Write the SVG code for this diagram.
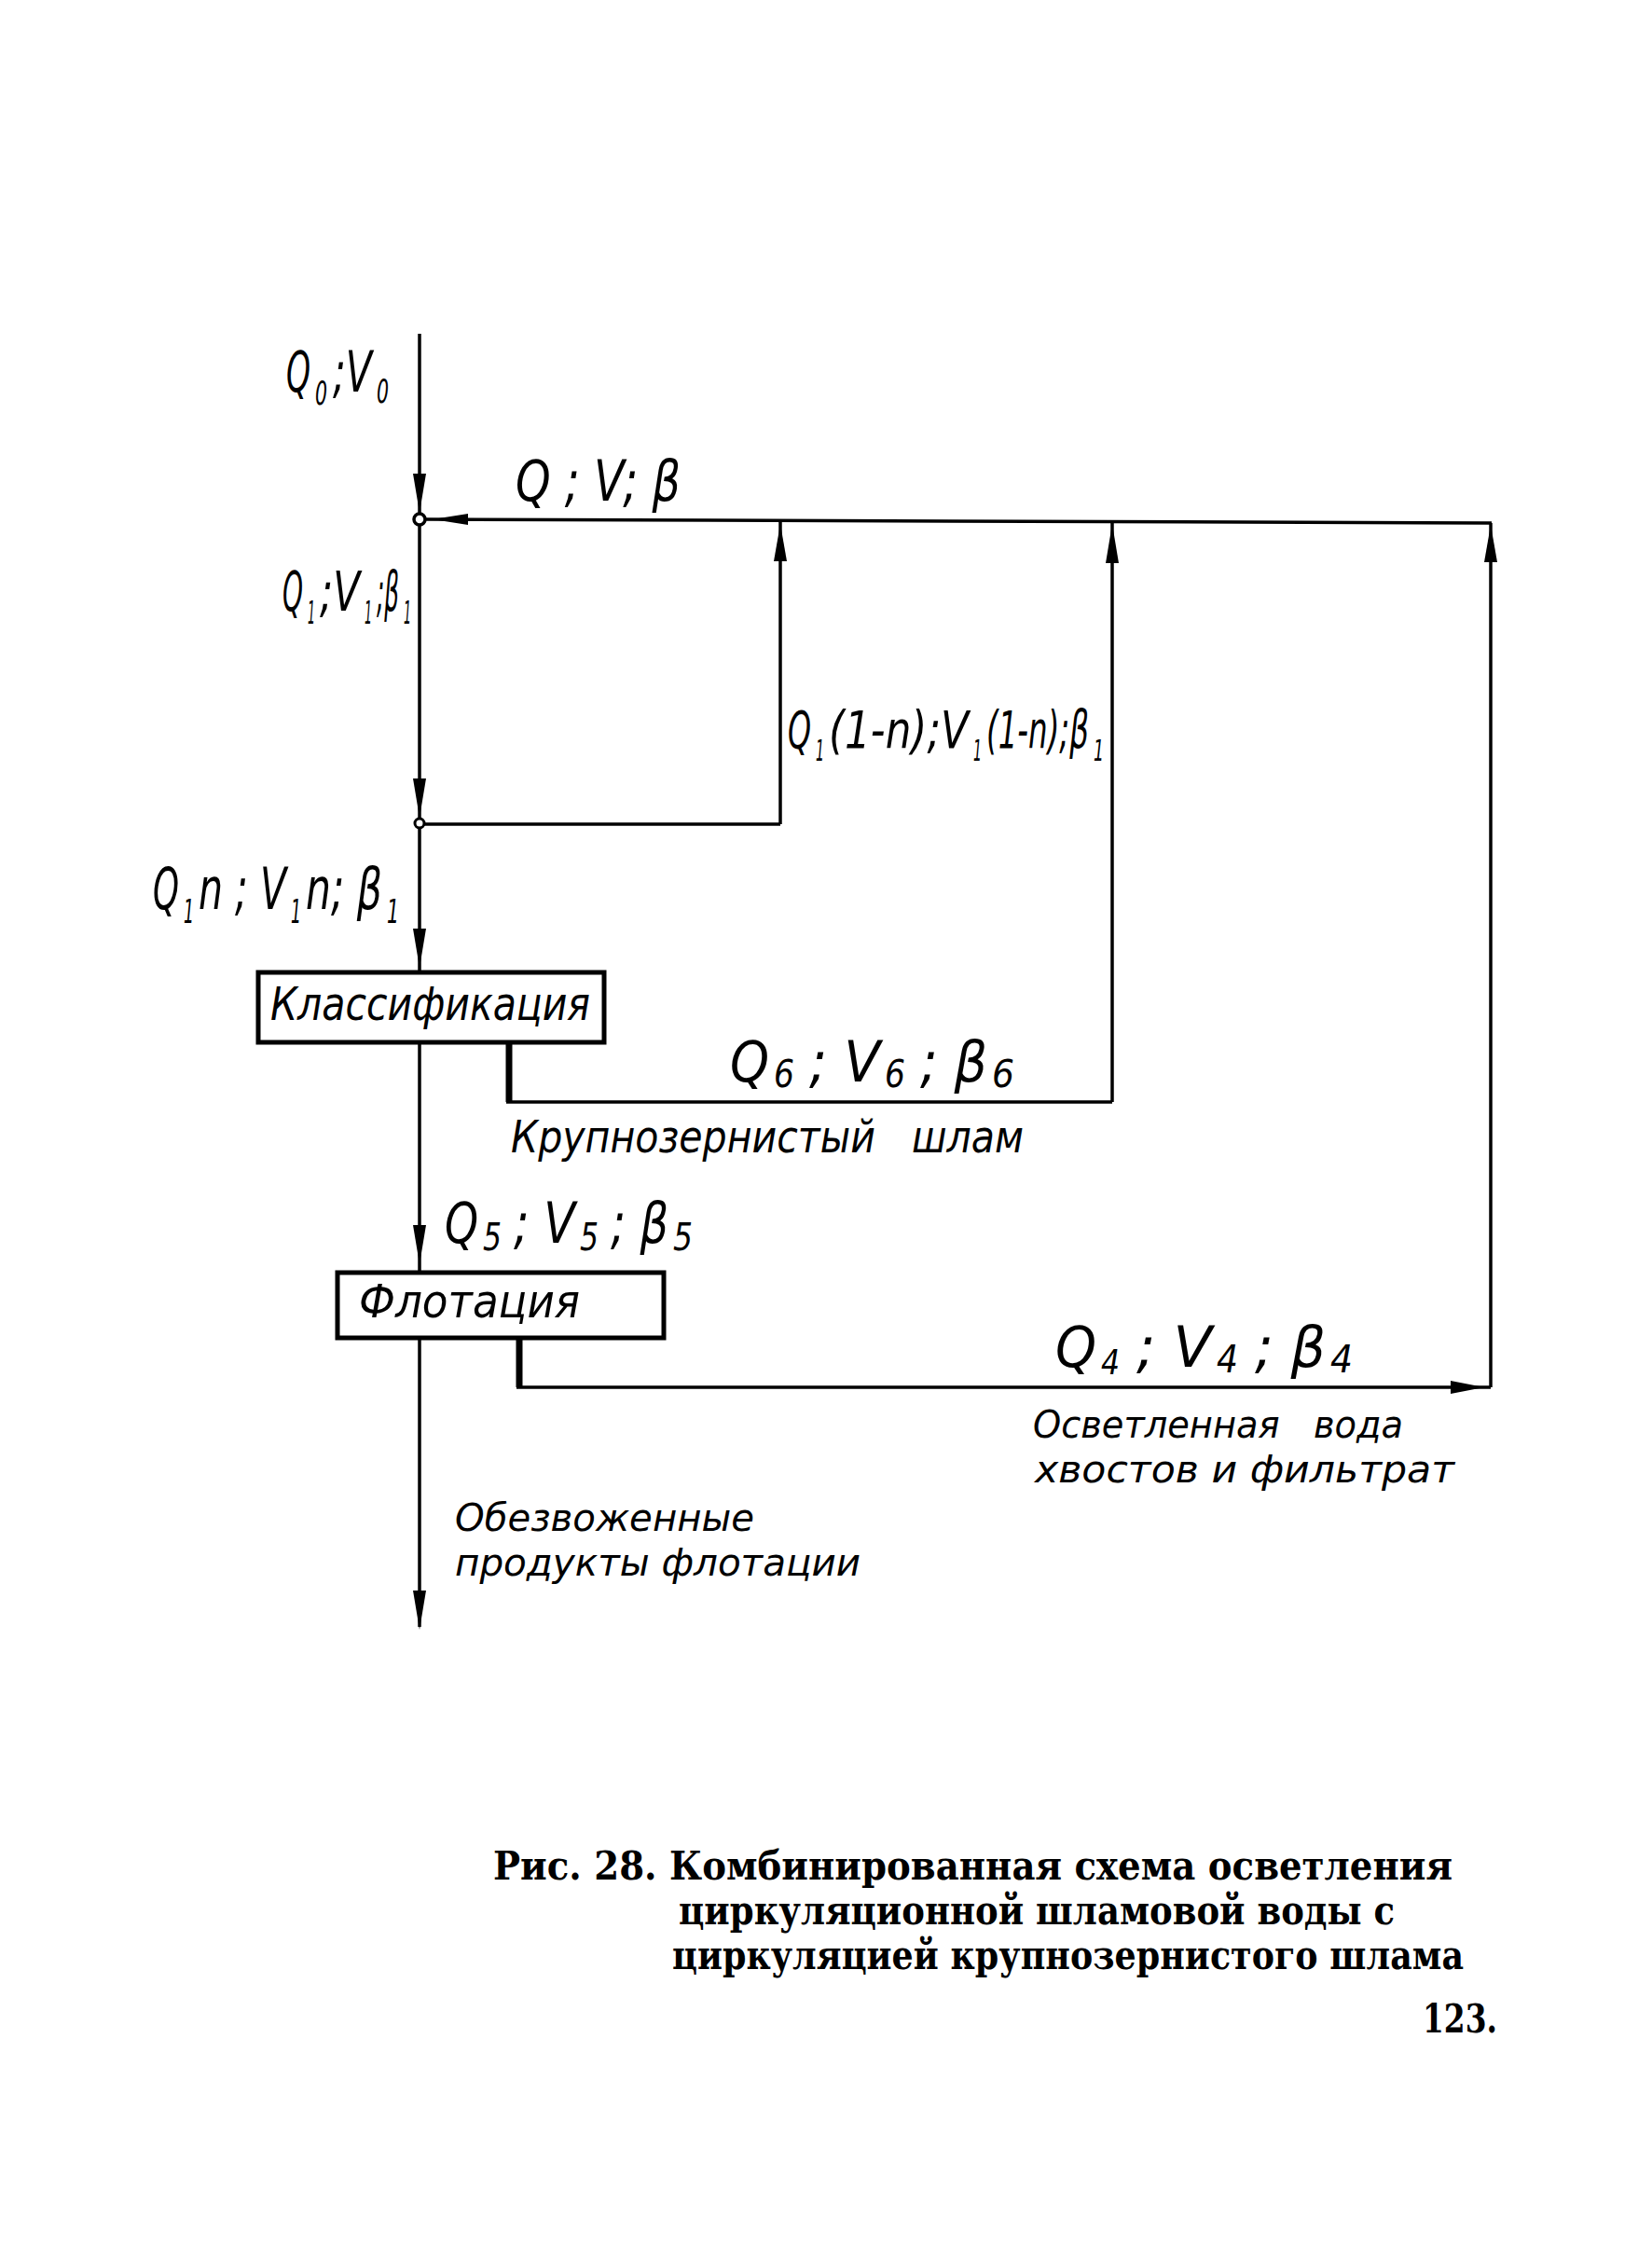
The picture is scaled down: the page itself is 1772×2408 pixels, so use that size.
<svg xmlns="http://www.w3.org/2000/svg" width="1772" height="2408" viewBox="0 0 1772 2408">
<style>
.ln{stroke:#000;stroke-width:3.5;fill:none}
.thk{stroke:#000;stroke-width:7;fill:none}
.box{stroke:#000;stroke-width:5;fill:#fff}
.hw{font-family:"Liberation Sans Narrow","DejaVu Sans Condensed","DejaVu Sans",sans-serif;font-style:italic;fill:#000}
.cap{font-family:"DejaVu Serif","Liberation Serif",serif;fill:#000;font-weight:bold}
.ah{fill:#000}
</style>
<defs>
<polygon id="ahd" points="0,0 -7,-42 7,-42" class="ah"/>
</defs>
<rect width="1772" height="2408" fill="#fff"/>
<g id="connectors">
<line class="ln" x1="450" y1="358" x2="450" y2="551"/>
<line class="ln" x1="450" y1="563" x2="450" y2="878"/>
<line class="ln" x1="450" y1="888" x2="450" y2="1043"/>
<line class="ln" x1="450" y1="1118" x2="450" y2="1365"/>
<line class="ln" x1="450" y1="1436" x2="450" y2="1745"/>
<circle cx="450" cy="557" r="6" fill="#fff" stroke="#000" stroke-width="3.5"/>
<circle cx="450" cy="883" r="5" fill="#fff" stroke="#000" stroke-width="3"/>
<line class="ln" x1="456" y1="557" x2="1600" y2="561"/>
<line class="ln" x1="837" y1="560" x2="837" y2="884"/>
<line class="ln" x1="455" y1="884" x2="837" y2="884"/>
<line class="thk" x1="546" y1="1118" x2="546" y2="1182"/>
<line class="ln" x1="543" y1="1182" x2="1193" y2="1182"/>
<line class="ln" x1="1193" y1="560" x2="1193" y2="1182"/>
<line class="thk" x1="557" y1="1436" x2="557" y2="1488"/>
<line class="ln" x1="554" y1="1488" x2="1599" y2="1488"/>
<line class="ln" x1="1599" y1="561" x2="1599" y2="1488"/>
<use href="#ahd" x="450" y="550"/>
<use href="#ahd" x="450" y="877"/>
<use href="#ahd" x="450" y="1038"/>
<use href="#ahd" x="450" y="1356"/>
<use href="#ahd" x="450" y="1748"/>
<polygon class="ah" points="464,557 502,551 502,563"/>
<polygon class="ah" points="837,562 830,602 844,602"/>
<polygon class="ah" points="1193,562 1186,604 1200,604"/>
<polygon class="ah" points="1599,563 1592,603 1606,603"/>
<polygon class="ah" points="1592,1488 1556,1481 1556,1495"/>
</g>
<g id="node-classification">
<rect class="box" x="277" y="1043" width="371" height="75"/>
<text class="hw" x="290" y="1094" font-size="50" textLength="343" lengthAdjust="spacingAndGlyphs">Классификация</text>
</g>
<g id="node-flotation">
<rect class="box" x="362" y="1365" width="350" height="70"/>
<text class="hw" x="385" y="1413" font-size="50" textLength="237" lengthAdjust="spacingAndGlyphs">Флотация</text>
</g>
<g id="label-q0">
<text class="hw" x="307" y="420" font-size="60" textLength="26" lengthAdjust="spacingAndGlyphs">Q</text>
<text class="hw" x="338" y="434" font-size="36" textLength="13" lengthAdjust="spacingAndGlyphs">0</text>
<text class="hw" x="357" y="420" font-size="60" textLength="42" lengthAdjust="spacingAndGlyphs">;V</text>
<text class="hw" x="404" y="432" font-size="36" textLength="13" lengthAdjust="spacingAndGlyphs">0</text>
</g>
<g id="label-q">
<text class="hw" x="553" y="537" font-size="60" textLength="177" lengthAdjust="spacingAndGlyphs">Q ; V; β</text>
</g>
<g id="label-q1">
<text class="hw" x="303" y="655" font-size="58" textLength="22" lengthAdjust="spacingAndGlyphs">Q</text>
<text class="hw" x="330" y="669" font-size="34" textLength="8" lengthAdjust="spacingAndGlyphs">1</text>
<text class="hw" x="343" y="655" font-size="58" textLength="43" lengthAdjust="spacingAndGlyphs">;V</text>
<text class="hw" x="391" y="669" font-size="34" textLength="8" lengthAdjust="spacingAndGlyphs">1</text>
<text class="hw" x="404" y="655" font-size="58" textLength="24" lengthAdjust="spacingAndGlyphs">;β</text>
<text class="hw" x="433" y="669" font-size="34" textLength="8" lengthAdjust="spacingAndGlyphs">1</text>
</g>
<g id="label-q1-1n">
<text class="hw" x="845" y="802" font-size="56" textLength="25" lengthAdjust="spacingAndGlyphs">Q</text>
<text class="hw" x="875" y="816" font-size="32" textLength="9" lengthAdjust="spacingAndGlyphs">1</text>
<text class="hw" x="889" y="802" font-size="56" textLength="150" lengthAdjust="spacingAndGlyphs">(1-n);V</text>
<text class="hw" x="1044" y="816" font-size="32" textLength="9" lengthAdjust="spacingAndGlyphs">1</text>
<text class="hw" x="1058" y="802" font-size="56" textLength="110" lengthAdjust="spacingAndGlyphs">(1-n);β</text>
<text class="hw" x="1173" y="816" font-size="32" textLength="11" lengthAdjust="spacingAndGlyphs">1</text>
</g>
<g id="label-q1n">
<text class="hw" x="164" y="975" font-size="62" textLength="28" lengthAdjust="spacingAndGlyphs">Q</text>
<text class="hw" x="197" y="990" font-size="36" textLength="11" lengthAdjust="spacingAndGlyphs">1</text>
<text class="hw" x="213" y="975" font-size="62" textLength="94" lengthAdjust="spacingAndGlyphs">n ; V</text>
<text class="hw" x="312" y="990" font-size="36" textLength="11" lengthAdjust="spacingAndGlyphs">1</text>
<text class="hw" x="328" y="975" font-size="62" textLength="82" lengthAdjust="spacingAndGlyphs">n; β</text>
<text class="hw" x="415" y="990" font-size="36" textLength="13" lengthAdjust="spacingAndGlyphs">1</text>
</g>
<g id="label-q6">
<text class="hw" x="783" y="1160" font-size="60" textLength="42" lengthAdjust="spacingAndGlyphs">Q</text>
<text class="hw" x="830" y="1166" font-size="40" textLength="22" lengthAdjust="spacingAndGlyphs">6</text>
<text class="hw" x="868" y="1160" font-size="60" textLength="76" lengthAdjust="spacingAndGlyphs">; V</text>
<text class="hw" x="949" y="1166" font-size="40" textLength="22" lengthAdjust="spacingAndGlyphs">6</text>
<text class="hw" x="987" y="1160" font-size="60" textLength="72" lengthAdjust="spacingAndGlyphs">; β</text>
<text class="hw" x="1064" y="1166" font-size="40" textLength="24" lengthAdjust="spacingAndGlyphs">6</text>
</g>
<g id="label-slime">
<text class="hw" x="548" y="1236" font-size="48" textLength="550" lengthAdjust="spacingAndGlyphs" xml:space="preserve">Крупнозернистый   шлам</text>
</g>
<g id="label-q5">
<text class="hw" x="477" y="1333" font-size="60" textLength="36" lengthAdjust="spacingAndGlyphs">Q</text>
<text class="hw" x="518" y="1341" font-size="40" textLength="20" lengthAdjust="spacingAndGlyphs">5</text>
<text class="hw" x="551" y="1333" font-size="60" textLength="66" lengthAdjust="spacingAndGlyphs">; V</text>
<text class="hw" x="622" y="1341" font-size="40" textLength="20" lengthAdjust="spacingAndGlyphs">5</text>
<text class="hw" x="655" y="1333" font-size="60" textLength="62" lengthAdjust="spacingAndGlyphs">; β</text>
<text class="hw" x="722" y="1341" font-size="40" textLength="21" lengthAdjust="spacingAndGlyphs">5</text>
</g>
<g id="label-q4">
<text class="hw" x="1132" y="1466" font-size="60" textLength="44" lengthAdjust="spacingAndGlyphs">Q</text>
<text class="hw" x="1181" y="1474" font-size="38" textLength="20" lengthAdjust="spacingAndGlyphs">4</text>
<text class="hw" x="1219" y="1466" font-size="60" textLength="81" lengthAdjust="spacingAndGlyphs">; V</text>
<text class="hw" x="1305" y="1472" font-size="40" textLength="23" lengthAdjust="spacingAndGlyphs">4</text>
<text class="hw" x="1346" y="1466" font-size="60" textLength="76" lengthAdjust="spacingAndGlyphs">; β</text>
<text class="hw" x="1427" y="1472" font-size="40" textLength="24" lengthAdjust="spacingAndGlyphs">4</text>
</g>
<g id="label-water">
<text class="hw" x="1108" y="1542" font-size="40" textLength="397" lengthAdjust="spacingAndGlyphs" xml:space="preserve">Осветленная   вода</text>
<text class="hw" x="1110" y="1590" font-size="40" textLength="450" lengthAdjust="spacingAndGlyphs">хвостов и фильтрат</text>
</g>
<g id="label-products">
<text class="hw" x="488" y="1642" font-size="40" textLength="321" lengthAdjust="spacingAndGlyphs">Обезвоженные</text>
<text class="hw" x="488" y="1690" font-size="40" textLength="435" lengthAdjust="spacingAndGlyphs">продукты флотации</text>
</g>
<g id="caption">
<text class="cap" x="529" y="2016" font-size="42" textLength="1029" lengthAdjust="spacingAndGlyphs">Рис. 28. Комбинированная схема осветления</text>
<text class="cap" x="728" y="2064" font-size="42" textLength="768" lengthAdjust="spacingAndGlyphs">циркуляционной шламовой воды с</text>
<text class="cap" x="721" y="2112" font-size="42" textLength="849" lengthAdjust="spacingAndGlyphs">циркуляцией крупнозернистого шлама</text>
<text class="cap" x="1526" y="2180" font-size="42" textLength="80" lengthAdjust="spacingAndGlyphs">123.</text>
</g>
</svg>
